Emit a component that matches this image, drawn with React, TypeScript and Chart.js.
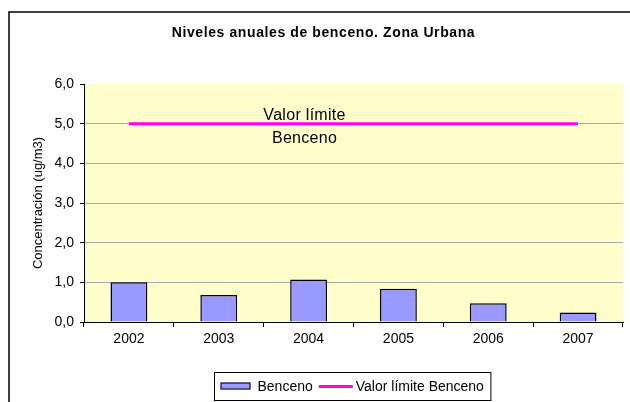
import React, { useEffect, useRef } from "react";
import { Chart, registerables } from "chart.js";

Chart.register(...registerables);

const years = ["2002", "2003", "2004", "2005", "2006", "2007"];
const benceno = [1.0, 0.68, 1.07, 0.84, 0.47, 0.24];
const valorLimite = [5, 5, 5, 5, 5, 5];
const yMin = 0;
const yMax = 6;
const yStep = 1;
const chartTitle = "Niveles anuales de benceno. Zona Urbana";
const yAxisTitle = "Concentración (ug/m3)";
const seriesNames = ["Benceno", "Valor límite Benceno"];
const limitLabel = ["Valor límite", "Benceno"];
const limitLabelIndex = 2;

const FONT = '"Liberation Sans", Arial, sans-serif';

const decor = {
  id: "decor",
  beforeDraw(chart: any) {
    const { ctx, chartArea: a } = chart;
    ctx.save();
    ctx.fillStyle = "#ffffff";
    ctx.fillRect(0, 0, chart.width, chart.height);
    ctx.fillStyle = "#FFFFCC";
    ctx.fillRect(a.left, a.top, a.right - a.left, a.bottom - a.top);
    ctx.restore();
  },
  afterDraw(chart: any) {
    const { ctx, chartArea: a } = chart;
    const xs = chart.scales.x;
    const ys = chart.scales.y;
    ctx.save();
    // outer frame
    ctx.strokeStyle = "#000";
    ctx.lineWidth = 1.5;
    ctx.beginPath();
    ctx.moveTo(9, chart.height + 5);
    ctx.lineTo(9, 12);
    ctx.lineTo(chart.width + 5, 12);
    ctx.stroke();

    // title
    ctx.fillStyle = "#000";
    ctx.font = `bold 14px ${FONT}`;
    (ctx as any).letterSpacing = "0.6px";
    ctx.textAlign = "center";
    ctx.textBaseline = "middle";
    ctx.fillText(chartTitle, chart.width / 2 + 8.5, 33);

    // limit label
    const lx = xs.getPixelForValue(limitLabelIndex) - 4;
    const ly = ys.getPixelForValue(valorLimite[limitLabelIndex]);
    ctx.font = `16px ${FONT}`;
    (ctx as any).letterSpacing = "0.3px";
    ctx.textAlign = "center";
    ctx.textBaseline = "alphabetic";
    ctx.fillText(limitLabel[0], lx, ly - 4);
    ctx.fillText(limitLabel[1], lx, ly + 19);
    (ctx as any).letterSpacing = "0px";

    // legend
    ctx.font = `14px ${FONT}`;
    const w1 = ctx.measureText(seriesNames[0]).width;
    const w2 = ctx.measureText(seriesNames[1]).width;
    const total = 6 + 30 + 7 + w1 + 6 + 34 + 3 + w2 + 7;
    const cx = (a.left + a.right) / 2 - 1;
    const bx = Math.round(cx - total / 2) + 0.5;
    const by = 372.5;
    const bh = 28;
    ctx.strokeStyle = "#000";
    ctx.lineWidth = 1;
    ctx.strokeRect(bx, by, total, bh);
    const ty = by + bh / 2;
    let x = bx + 6;
    const ds0 = chart.data.datasets[0];
    const ds1 = chart.data.datasets[1];
    ctx.fillStyle = ds0.backgroundColor;
    ctx.fillRect(x, ty - 4, 30, 7);
    ctx.strokeStyle = "#000";
    ctx.strokeRect(x + 0.5, ty - 3.5, 29, 6);
    x += 30 + 7;
    ctx.fillStyle = "#000";
    ctx.textAlign = "left";
    ctx.textBaseline = "middle";
    ctx.fillText(seriesNames[0], x, ty + 0.5);
    x += w1 + 6;
    ctx.strokeStyle = ds1.borderColor;
    ctx.lineWidth = 3;
    ctx.beginPath();
    ctx.moveTo(x, ty);
    ctx.lineTo(x + 34, ty);
    ctx.stroke();
    x += 34 + 3;
    ctx.fillText(seriesNames[1], x, ty + 0.5);
    ctx.restore();
  },
};

export default function App() {
  const ref = useRef<HTMLCanvasElement | null>(null);
  useEffect(() => {
    if (!ref.current) return;
    const chart = new Chart(ref.current, {
      type: "bar",
      data: {
        labels: years,
        datasets: [
          {
            type: "bar",
            label: seriesNames[0],
            data: benceno,
            backgroundColor: "#9999FF",
            borderColor: "#000000",
            borderWidth: 1.5,
            barPercentage: 0.41,
            categoryPercentage: 1,
            order: 2,
          },
          {
            type: "line",
            label: seriesNames[1],
            data: valorLimite,
            borderColor: "#FF00FF",
            borderWidth: 3,
            pointRadius: 0,
            fill: false,
            order: 1,
          } as any,
        ],
      },
      options: {
        responsive: false,
        animation: false,
        devicePixelRatio: 1,
        layout: { padding: { left: 0, right: 7, top: 84, bottom: 0 } },
        plugins: {
          legend: { display: false },
          tooltip: { enabled: false },
          title: { display: false },
        },
        scales: {
          x: {
            offset: true,
            grid: {
              offset: true,
              drawOnChartArea: false,
              drawTicks: true,
              tickLength: 5,
              color: "#000",
              tickColor: "#000",
            },
            border: { display: true, color: "#000", width: 1 },
            ticks: {
              color: "#000",
              font: { family: FONT, size: 14 },
              padding: 4,
              maxRotation: 0,
            },
            afterFit(scale: any) {
              scale.height = 80;
            },
          },
          y: {
            min: yMin,
            max: yMax,
            ticks: {
              stepSize: yStep,
              color: "#000",
              font: { family: FONT, size: 14 },
              padding: 6,
              callback: (v: any) => Number(v).toFixed(1).replace(".", ","),
            },
            grid: {
              color: (c: any) =>
                c.tick && (c.tick.value === yMax || c.tick.value === yMin) ? "rgba(0,0,0,0)" : "#AAAAAA",
              tickColor: "#000",
              tickLength: 4,
              lineWidth: 1,
            },
            border: { display: true, color: "#000", width: 1 },
            title: {
              display: true,
              text: yAxisTitle,
              color: "#000",
              font: { family: FONT, size: 13 },
              padding: { top: 31, bottom: 0 },
            },
            afterFit(scale: any) {
              scale.width = 84;
            },
          },
        },
      },
      plugins: [decor],
    });
    return () => chart.destroy();
  }, []);
  return (
    <div style={{ position: "absolute", left: 0, top: 0, width: 630, height: 402 }}>
      <canvas ref={ref} width={630} height={402} style={{ width: 630, height: 402 }} />
    </div>
  );
}
